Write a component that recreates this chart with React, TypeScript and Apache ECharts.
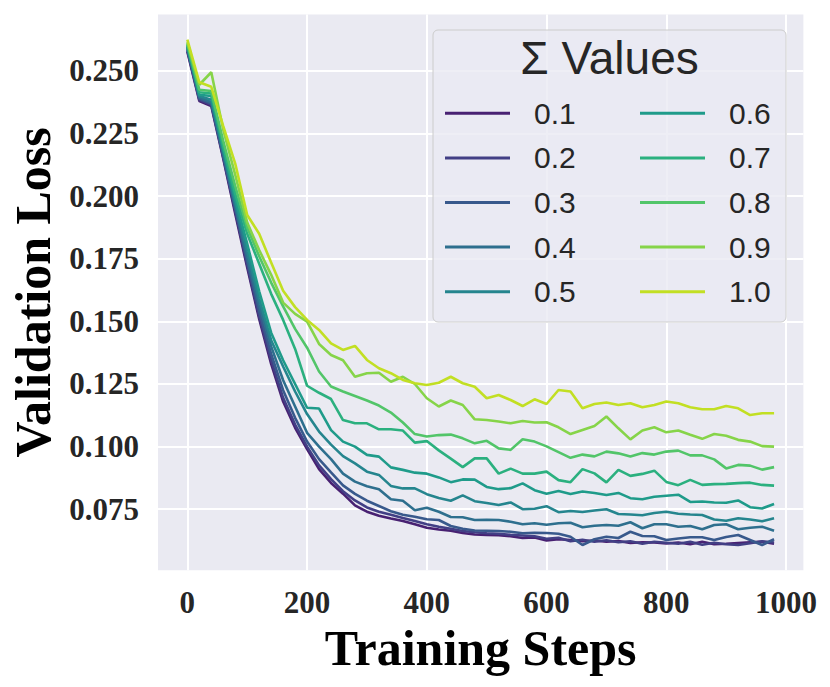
import React, { useEffect, useRef } from "react";
import * as echarts from "echarts";

const steps = [0, 20, 40, 60, 80, 100, 120, 140, 160, 180, 200, 220, 240, 260, 280, 300, 320, 340, 360, 380, 400, 420, 440, 460, 480, 500, 520, 540, 560, 580, 600, 620, 640, 660, 680, 700, 720, 740, 760, 780, 800, 820, 840, 860, 880, 900, 920, 940, 960, 980];

const sigmaLabels = ["0.1", "0.2", "0.3", "0.4", "0.5", "0.6", "0.7", "0.8", "0.9", "1.0"];

const loss01 = [0.2577, 0.2380, 0.2360, 0.2150, 0.1930, 0.1715, 0.1510, 0.1330, 0.1180, 0.1075, 0.0990, 0.0910, 0.0855, 0.0812, 0.0765, 0.0740, 0.0724, 0.0713, 0.0703, 0.0690, 0.0676, 0.0669, 0.0664, 0.0655, 0.0649, 0.0647, 0.0646, 0.0642, 0.0635, 0.0637, 0.0625, 0.0630, 0.0627, 0.0622, 0.0625, 0.0620, 0.0623, 0.0615, 0.0618, 0.0617, 0.0613, 0.0617, 0.0610, 0.0620, 0.0610, 0.0612, 0.0615, 0.0618, 0.0620, 0.0612];
const loss02 = [0.2582, 0.2385, 0.2365, 0.2155, 0.1940, 0.1725, 0.1520, 0.1345, 0.1195, 0.1088, 0.1000, 0.0925, 0.0870, 0.0822, 0.0785, 0.0757, 0.0740, 0.0728, 0.0715, 0.0703, 0.0690, 0.0680, 0.0672, 0.0663, 0.0658, 0.0654, 0.0652, 0.0648, 0.0645, 0.0642, 0.0632, 0.0636, 0.0622, 0.0628, 0.0620, 0.0626, 0.0618, 0.0622, 0.0612, 0.0620, 0.0616, 0.0612, 0.0620, 0.0608, 0.0616, 0.0610, 0.0607, 0.0614, 0.0622, 0.0617];
const loss03 = [0.2587, 0.2390, 0.2370, 0.2160, 0.1950, 0.1740, 0.1540, 0.1370, 0.1225, 0.1115, 0.1020, 0.0950, 0.0897, 0.0845, 0.0811, 0.0784, 0.0763, 0.0742, 0.0728, 0.0720, 0.0710, 0.0707, 0.0683, 0.0672, 0.0665, 0.0664, 0.0663, 0.0660, 0.0654, 0.0656, 0.0655, 0.0652, 0.0640, 0.0607, 0.0630, 0.0640, 0.0635, 0.0660, 0.0643, 0.0642, 0.0627, 0.0633, 0.0638, 0.0638, 0.0627, 0.0639, 0.0647, 0.0627, 0.0607, 0.0630];
const loss04 = [0.2592, 0.2395, 0.2375, 0.2170, 0.1960, 0.1755, 0.1565, 0.1400, 0.1265, 0.1160, 0.1055, 0.1000, 0.0950, 0.0892, 0.0860, 0.0842, 0.0830, 0.0790, 0.0784, 0.0746, 0.0756, 0.0740, 0.0719, 0.0718, 0.0707, 0.0708, 0.0707, 0.0700, 0.0690, 0.0694, 0.0688, 0.0694, 0.0696, 0.0678, 0.0684, 0.0687, 0.0684, 0.0698, 0.0674, 0.0690, 0.0690, 0.0680, 0.0683, 0.0670, 0.0687, 0.0690, 0.0670, 0.0676, 0.0680, 0.0664];
const loss05 = [0.2597, 0.2400, 0.2385, 0.2180, 0.1975, 0.1780, 0.1590, 0.1425, 0.1320, 0.1220, 0.1130, 0.1060, 0.1008, 0.0962, 0.0933, 0.0900, 0.0887, 0.0843, 0.0833, 0.0833, 0.0810, 0.0795, 0.0784, 0.0805, 0.0782, 0.0775, 0.0767, 0.0777, 0.0750, 0.0752, 0.0762, 0.0738, 0.0743, 0.0739, 0.0745, 0.0750, 0.0731, 0.0729, 0.0726, 0.0735, 0.0740, 0.0732, 0.0729, 0.0727, 0.0709, 0.0704, 0.0714, 0.0709, 0.0702, 0.0714];
const loss06 = [0.2600, 0.2405, 0.2400, 0.2190, 0.1990, 0.1810, 0.1620, 0.1455, 0.1345, 0.1250, 0.1155, 0.1152, 0.1066, 0.1020, 0.1000, 0.0967, 0.0960, 0.0917, 0.0907, 0.0896, 0.0892, 0.0877, 0.0858, 0.0869, 0.0868, 0.0839, 0.0830, 0.0834, 0.0853, 0.0826, 0.0812, 0.0823, 0.0811, 0.0821, 0.0815, 0.0807, 0.0815, 0.0794, 0.0790, 0.0800, 0.0804, 0.0808, 0.0779, 0.0781, 0.0777, 0.0776, 0.0785, 0.0758, 0.0753, 0.0771];
const loss07 = [0.2605, 0.2415, 0.2410, 0.2200, 0.2010, 0.1850, 0.1730, 0.1610, 0.1506, 0.1390, 0.1243, 0.1215, 0.1190, 0.1106, 0.1093, 0.1093, 0.1069, 0.1069, 0.1064, 0.1016, 0.1022, 0.0985, 0.0952, 0.0918, 0.0953, 0.0953, 0.0892, 0.0912, 0.0892, 0.0892, 0.0900, 0.0866, 0.0858, 0.0910, 0.0893, 0.0857, 0.0907, 0.0883, 0.0891, 0.0904, 0.0859, 0.0846, 0.0867, 0.0847, 0.0850, 0.0851, 0.0854, 0.0856, 0.0847, 0.0844];
const loss08 = [0.2610, 0.2425, 0.2420, 0.2220, 0.2040, 0.1875, 0.1760, 0.1655, 0.1560, 0.1470, 0.1395, 0.1300, 0.1240, 0.1220, 0.1202, 0.1184, 0.1164, 0.1136, 0.1096, 0.1050, 0.1040, 0.1046, 0.1048, 0.1033, 0.1013, 0.1023, 0.0993, 0.0987, 0.1029, 0.1020, 0.1001, 0.0978, 0.0955, 0.0968, 0.0961, 0.0980, 0.0973, 0.0960, 0.0974, 0.0968, 0.0980, 0.0984, 0.0965, 0.0965, 0.0949, 0.0913, 0.0927, 0.0924, 0.0908, 0.0918];
const loss09 = [0.2615, 0.2445, 0.2495, 0.2265, 0.2085, 0.1895, 0.1785, 0.1686, 0.1575, 0.1530, 0.1499, 0.1410, 0.1366, 0.1345, 0.1279, 0.1293, 0.1295, 0.1259, 0.1279, 0.1250, 0.1193, 0.1160, 0.1184, 0.1166, 0.1109, 0.1106, 0.1100, 0.1093, 0.1102, 0.1096, 0.1097, 0.1077, 0.1050, 0.1066, 0.1082, 0.1120, 0.1073, 0.1029, 0.1064, 0.1077, 0.1057, 0.1064, 0.1047, 0.1031, 0.1050, 0.1043, 0.1027, 0.1020, 0.1002, 0.1000];
const loss10 = [0.2625, 0.2455, 0.2437, 0.2280, 0.2130, 0.1925, 0.1850, 0.1735, 0.1622, 0.1557, 0.1506, 0.1466, 0.1412, 0.1386, 0.1402, 0.1346, 0.1313, 0.1293, 0.1266, 0.1253, 0.1246, 0.1255, 0.1279, 0.1253, 0.1239, 0.1193, 0.1206, 0.1186, 0.1162, 0.1189, 0.1170, 0.1226, 0.1220, 0.1153, 0.1170, 0.1176, 0.1166, 0.1173, 0.1157, 0.1166, 0.1180, 0.1173, 0.1157, 0.1149, 0.1149, 0.1162, 0.1153, 0.1126, 0.1133, 0.1133];

const lineColors = ["#482172", "#423F85", "#38598C", "#2E6F8E", "#25858E", "#1F9B8A", "#2BB07F", "#52C569", "#86D449", "#C2DF23"];

const xTicks = [0, 200, 400, 600, 800, 1000];
const yTicks = [0.075, 0.1, 0.125, 0.15, 0.175, 0.2, 0.225, 0.25];

export default function App() {
  const ref = useRef<HTMLDivElement>(null);

  useEffect(() => {
    document.body.style.margin = "0";
    const chart = echarts.init(ref.current as HTMLDivElement, null, { renderer: "svg" });
    const allLoss = [loss01, loss02, loss03, loss04, loss05, loss06, loss07, loss08, loss09, loss10];

    const tickFont = {
      fontFamily: "Liberation Serif",
      fontWeight: "bold" as const,
      fontSize: 31,
      color: "#262626",
    };
    const legendText = {
      fontFamily: "Liberation Sans",
      fontSize: 30,
      lineHeight: 30,
      color: "#262626",
      padding: [0, 0, 0, 19],
    };

    chart.setOption({
      animation: false,
      grid: {
        left: 156.6,
        top: 14.4,
        width: 646.8,
        height: 555.9,
        show: true,
        backgroundColor: "#EAEAF2",
        borderWidth: 0,
        containLabel: false,
      },
      xAxis: {
        type: "value",
        min: -49,
        max: 1029,
        name: "Training Steps",
        nameLocation: "middle",
        nameGap: 46,
        nameTextStyle: {
          fontFamily: "Liberation Serif",
          fontWeight: "bold",
          fontSize: 50,
          color: "#000",
        },
        axisLine: { show: false },
        axisTick: { show: false, customValues: xTicks },
        axisLabel: {
          ...tickFont,
          margin: 17,
          customValues: xTicks,
          formatter: (v: number) => String(v),
        },
        splitLine: { show: true, lineStyle: { color: "#FFFFFF", width: 2 } },
      },
      yAxis: {
        type: "value",
        min: 0.0506,
        max: 0.2726,
        name: "Validation Loss",
        nameLocation: "middle",
        nameGap: 100,
        nameTextStyle: {
          fontFamily: "Liberation Serif",
          fontWeight: "bold",
          fontSize: 50,
          color: "#000",
        },
        axisLine: { show: false },
        axisTick: { show: false, customValues: yTicks },
        axisLabel: {
          ...tickFont,
          margin: 19,
          customValues: yTicks,
          formatter: (v: number) => v.toFixed(3),
        },
        splitLine: { show: true, lineStyle: { color: "#FFFFFF", width: 2 } },
      },
      legend: [
        {
          data: sigmaLabels.slice(0, 5),
          orient: "vertical",
          left: 445,
          top: 98.3,
          padding: 0,
          itemWidth: 65,
          itemHeight: 3,
          itemGap: 14.6,
          icon: "rect",
          textStyle: legendText,
          z: 10,
        },
        {
          data: sigmaLabels.slice(5),
          orient: "vertical",
          left: 640,
          top: 98.3,
          padding: 0,
          itemWidth: 65,
          itemHeight: 3,
          itemGap: 14.6,
          icon: "rect",
          textStyle: legendText,
          z: 10,
        },
      ],
      graphic: [
        {
          type: "rect",
          z: 5,
          shape: { x: 433, y: 30, width: 353, height: 292, r: 5 },
          style: { fill: "rgba(234,234,242,0.8)", stroke: "#CCCCCC", lineWidth: 1 },
        },
        {
          type: "text",
          z: 6,
          x: 609.5,
          y: 58,
          style: {
            text: "Σ Values",
            fontFamily: "Liberation Sans",
            fontSize: 46,
            fill: "#262626",
            align: "center",
            verticalAlign: "middle",
          },
        },
      ],
      series: allLoss.map((vals, i) => ({
        name: sigmaLabels[i],
        type: "line",
        data: steps.map((s, j) => [s, vals[j]]),
        showSymbol: false,
        symbol: "none",
        smooth: false,
        color: lineColors[i],
        lineStyle: { color: lineColors[i], width: 2.6 },
        emphasis: { disabled: true },
        z: 2,
      })),
    });

    return () => chart.dispose();
  }, []);

  return <div ref={ref} style={{ width: 830, height: 687 }} />;
}
